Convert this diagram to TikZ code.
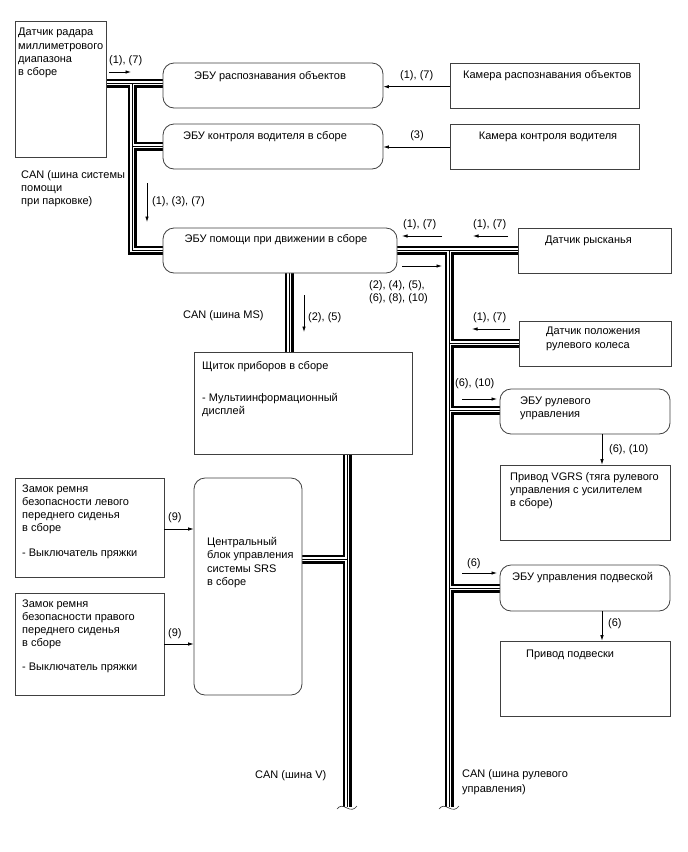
\documentclass[tikz,border=0pt]{standalone}
\usepackage{fontspec}
\setmainfont{Liberation Sans}
\usetikzlibrary{arrows.meta,fit,backgrounds}
\begin{document}
\begin{tikzpicture}[x=1pt,y=-1pt,
  every node/.style={font=\fontsize{11}{13.3}\selectfont, inner sep=0pt},
  box/.style={draw=black!75, line width=0.8pt, fill=white, inner sep=0pt},
  rbox/.style={box, rounded corners=11pt},
  txt/.style={anchor=north west, align=left, yshift=9.31pt, execute at begin node=\strut},
  ctxt/.style={anchor=base, align=center},
  arr/.style={draw=black, line width=0.7pt, -{Latex[length=5.5pt,width=3.5pt]}},
  bus/.style={draw=black, line width=9pt, postaction={draw=white, line width=4pt}, postaction={draw=black, line width=1pt}},
  brk/.style={draw=black!80, line width=0.6pt}]
\useasboundingbox (0,0) rectangle (688,852);
% boxes
\node[box, fit={(15,21) (106,157)}] (radar) {};
\node[rbox, fit={(163,63) (383,108)}] (ecuobj) {};
\node[box, fit={(450,63) (639,108)}] (camobj) {};
\node[rbox, fit={(163,124) (383,169)}] (ecudrv) {};
\node[box, fit={(450,124) (639,169)}] (camdrv) {};
\node[rbox, fit={(163,228) (397,273)}] (ecuasst) {};
\node[box, fit={(518,228) (671,273)}] (yaw) {};
\node[box, fit={(519,321) (671,366)}] (sws) {};
\node[box, fit={(194,352) (412,454)}] (meter) {};
\node[rbox, fit={(500,389) (670,434)}] (ecustr) {};
\node[box, fit={(500,465) (670,540)}] (vgrs) {};
\node[box, fit={(15,478) (164,577)}] (beltl) {};
\node[rbox, fit={(194,478) (302,695)}] (srs) {};
\node[box, fit={(15,593) (164,695)}] (beltr) {};
\node[rbox, fit={(500,565) (670,611)}] (ecusus) {};
\node[box, fit={(500,641) (670,716)}] (act) {};
% bus joints
\coordinate (jL1) at (132,83);
\coordinate (jL2) at (132,146);
\coordinate (jL3) at (132,250);
\coordinate (jR0) at (449,250);
\coordinate (jR1) at (449,343);
\coordinate (jR2) at (449,410);
\coordinate (jR3) at (449,588);
\coordinate (endR) at (449,807);
\coordinate (msx) at (289,300);
\coordinate (jV1) at (347,559);
\coordinate (endV) at (347,807);
\begin{scope}[on background layer]
\path[bus] (radar.east |- jL1) -- (ecuobj.west |- jL1)
  (jL1) -- (jL3) -- (ecuasst.west |- jL3)
  (jL2) -- (ecudrv.west |- jL2)
  (ecuasst.east |- jR0) -- (yaw.west |- jR0)
  (jR0) -- (endR)
  (jR1) -- (sws.west |- jR1)
  (jR2) -- (ecustr.west |- jR2)
  (jR3) -- (ecusus.west |- jR3)
  (ecuasst.south -| msx) -- (meter.north -| msx)
  (meter.south -| endV) -- (endV)
  (srs.east |- jV1) -- (jV1);
\end{scope}
% break marks
\begin{scope}[shift={(endV)}]
\draw[brk] (-10,2) .. controls (-7,-2) and (-4,-1) .. (0,1) .. controls (4,3) and (7,3) .. (10,-1);
\end{scope}
\begin{scope}[shift={(endR)}]
\draw[brk] (-10,2) .. controls (-7,-2) and (-4,-1) .. (0,1) .. controls (4,3) and (7,3) .. (10,-1);
\end{scope}
% arrow levels and free ends
\coordinate (a1s) at (109,72);
\coordinate (a1e) at (131,72);
\coordinate (y2) at (0,86.7);
\coordinate (y3) at (0,147);
\coordinate (a4s) at (147,183);
\coordinate (a4e) at (147,222);
\coordinate (a5s) at (442,236);
\coordinate (a5e) at (402,236);
\coordinate (a6s) at (508,236);
\coordinate (a6e) at (473,236);
\coordinate (a7s) at (402,266);
\coordinate (a7e) at (442,266);
\coordinate (a8s) at (304,295);
\coordinate (a8e) at (304,332);
\coordinate (a9s) at (510,329);
\coordinate (a9e) at (472,329);
\coordinate (a10s) at (462,399);
\coordinate (a10e) at (497,399);
\coordinate (y12) at (0,529);
\coordinate (y13) at (0,644);
\coordinate (a14s) at (462,573);
\coordinate (a14e) at (497,573);
\coordinate (xd) at (602,0);
\draw[arr] (a1s) -- (a1e);
\draw[arr] (camobj.west |- y2) -- (ecuobj.east |- y2);
\draw[arr] (camdrv.west |- y3) -- (ecudrv.east |- y3);
\draw[arr] (a4s) -- (a4e);
\draw[arr] (a5s) -- (a5e);
\draw[arr] (a6s) -- (a6e);
\draw[arr] (a7s) -- (a7e);
\draw[arr] (a8s) -- (a8e);
\draw[arr] (a9s) -- (a9e);
\draw[arr] (a10s) -- (a10e);
\draw[arr] (ecustr.south -| xd) -- (vgrs.north -| xd);
\draw[arr] (beltl.east |- y12) -- (srs.west |- y12);
\draw[arr] (beltr.east |- y13) -- (srs.west |- y13);
\draw[arr] (a14s) -- (a14e);
\draw[arr] (ecusus.south -| xd) -- (act.north -| xd);
% texts
\node[txt] (t_radar) at (18,37.5) {Датчик радара\\миллиметрового\\диапазона\\в сборе};
\node[txt] (l_r17) at (109,63.5) {(1), (7)};
\node[ctxt] (t_ecuobj) at (270,79.5) {ЭБУ распознавания объектов};
\node[txt] (l_c17) at (400,78.5) {(1), (7)};
\node[txt] (t_camobj) at (463,78.5) {Камера распознавания объектов};
\node[ctxt] (t_ecudrv) at (265,139.5) {ЭБУ контроля водителя в сборе};
\node[ctxt] (l_3) at (417,138.5) {(3)};
\node[ctxt] (t_camdrv) at (548,139.5) {Камера контроля водителя};
\node[txt] (t_canpa) at (21,179.5) {CAN (шина системы\\помощи\\при парковке)};
\node[txt] (l_137) at (152,204.5) {(1), (3), (7)};
\node[ctxt] (t_ecuasst) at (276,242.5) {ЭБУ помощи при движении в сборе};
\node[txt] (l_a17) at (403,227.5) {(1), (7)};
\node[txt] (l_y17) at (473,227.5) {(1), (7)};
\node[txt] (t_yaw) at (545,243.5) {Датчик рысканья};
\node[txt] (l_multi) at (369,289.5) {(2), (4), (5),\\(6), (8), (10)};
\node[txt] (t_canms) at (183,318.5) {CAN (шина MS)};
\node[txt] (l_25) at (308,320.5) {(2), (5)};
\node[txt] (l_s17) at (473,320.5) {(1), (7)};
\node[txt] (t_sws) at (546,336.5) {Датчик положения\\рулевого колеса};
\node[txt] (t_meter) at (202,370.5) {Щиток приборов в сборе\\[18.7pt]- Мультиинформационный\\дисплей};
\node[txt] (l_610a) at (455,386.5) {(6), (10)};
\node[txt] (t_ecustr) at (520,405.5) {ЭБУ рулевого\\управления};
\node[txt] (l_610b) at (609,452.5) {(6), (10)};
\node[txt] (t_vgrs) at (510,481.5) {Привод VGRS (тяга рулевого\\управления с усилителем\\в сборе)};
\node[txt] (t_beltl) at (22,493.5) {Замок ремня\\безопасности левого\\переднего сиденья\\в сборе\\[11.7pt]- Выключатель пряжки};
\node[txt] (l_9a) at (168,520.5) {(9)};
\node[txt] (t_srs) at (207,546.5) {Центральный\\блок управления\\системы SRS\\в сборе};
\node[txt] (t_beltr) at (22,608.5) {Замок ремня\\безопасности правого\\переднего сиденья\\в сборе\\[10.7pt]- Выключатель пряжки};
\node[txt] (l_9b) at (168,636.5) {(9)};
\node[txt] (l_6a) at (467,566.5) {(6)};
\node[txt] (t_ecusus) at (512,580.5) {ЭБУ управления подвеской};
\node[txt] (l_6b) at (608,626.5) {(6)};
\node[txt] (t_act) at (526,657.5) {Привод подвески};
\node[txt] (t_canv) at (255,778.5) {CAN (шина V)};
\node[txt] (t_cans) at (462,778.5) {CAN (шина рулевого\\[1.7pt]управления)};
\end{tikzpicture}
\end{document}
